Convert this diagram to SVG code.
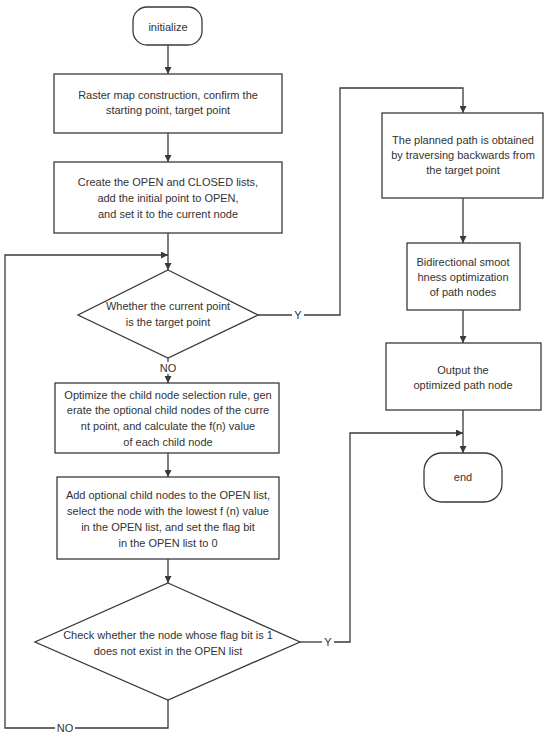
<svg xmlns="http://www.w3.org/2000/svg" width="550" height="740" viewBox="0 0 550 740">
<style>
.s{fill:#fff;stroke:#3a3a3a;stroke-width:1.3}
.c{fill:none;stroke:#3a3a3a;stroke-width:1.3}
text{font-family:"Liberation Sans",Arial,sans-serif;font-size:11px;fill:#333;text-anchor:middle}
</style>
<defs>
<marker id="a" viewBox="0 0 10 10" refX="10" refY="5" markerWidth="7" markerHeight="7" orient="auto" markerUnits="userSpaceOnUse">
<path d="M0,0 L10,5 L0,10 Z" fill="#3a3a3a"/>
</marker>
</defs>
<rect width="550" height="740" fill="#fff"/>
<g id="connectors">
<path class="c" d="M168,45 V74" marker-end="url(#a)"/>
<path class="c" d="M168,133 V162" marker-end="url(#a)"/>
<path class="c" d="M168,233 V270" marker-end="url(#a)"/>
<path class="c" d="M168,358 V362"/>
<path class="c" d="M168,374 V383" marker-end="url(#a)"/>
<path class="c" d="M168,453 V477" marker-end="url(#a)"/>
<path class="c" d="M168,559 V583" marker-end="url(#a)"/>
<path class="c" d="M258,315 H292"/>
<path class="c" d="M304,315 H340 V88 H463 V113" marker-end="url(#a)"/>
<path class="c" d="M463,198 V243" marker-end="url(#a)"/>
<path class="c" d="M463,310 V343" marker-end="url(#a)"/>
<path class="c" d="M463,410 V453" marker-end="url(#a)"/>
<path class="c" d="M300,642 H322"/>
<path class="c" d="M334,642 H350 V433 H463" marker-end="url(#a)"/>
<path class="c" d="M168,700 V728 H75"/>
<path class="c" d="M55,728 H5 V255 H168" marker-end="url(#a)"/>
<text x="298" y="319">Y</text>
<text x="168" y="372">NO</text>
<text x="328" y="646">Y</text>
<text x="65" y="732">NO</text>
</g>
<g id="initialize">
<rect class="s" x="133" y="7" width="69" height="38" rx="14"/>
<text x="168" y="31">initialize</text>
</g>
<g id="raster">
<rect class="s" x="54" y="74" width="228" height="59"/>
<text x="168" y="99">Raster map construction, confirm the</text>
<text x="168" y="114">starting point, target point</text>
</g>
<g id="create">
<rect class="s" x="54" y="162" width="228" height="71"/>
<text x="168" y="186">Create the OPEN and CLOSED lists,</text>
<text x="168" y="202">add the initial point to OPEN,</text>
<text x="168" y="218">and set it to the current node</text>
</g>
<g id="decision1">
<polygon class="s" points="168,270 258,315 168,358 78,315"/>
<text x="168" y="310">Whether the current point</text>
<text x="168" y="326">is the target point</text>
</g>
<g id="optimize">
<rect class="s" x="55" y="383" width="224" height="70"/>
<text x="168" y="399">Optimize the child node selection rule, gen</text>
<text x="168" y="414">erate the optional child nodes of the curre</text>
<text x="168" y="430">nt point, and calculate the f(n) value</text>
<text x="168" y="446">of each child node</text>
</g>
<g id="add">
<rect class="s" x="57" y="477" width="222" height="82"/>
<text x="168" y="499">Add optional child nodes to the OPEN list,</text>
<text x="168" y="515">select the node with the lowest f (n) value</text>
<text x="168" y="531">in the OPEN list, and set the flag bit</text>
<text x="168" y="547">in the OPEN list to 0</text>
</g>
<g id="decision2">
<polygon class="s" points="168,583 300,642 168,700 35,642"/>
<text x="168" y="639">Check whether the node whose flag bit is 1</text>
<text x="168" y="655">does not exist in the OPEN list</text>
</g>
<g id="traverse">
<rect class="s" x="382" y="113" width="161" height="85"/>
<text x="463" y="144">The planned path is obtained</text>
<text x="463" y="159">by traversing backwards from</text>
<text x="463" y="174">the target point</text>
</g>
<g id="smooth">
<rect class="s" x="407" y="243" width="113" height="67"/>
<text x="463" y="266">Bidirectional smoot</text>
<text x="463" y="281">hness optimization</text>
<text x="463" y="296">of path nodes</text>
</g>
<g id="output">
<rect class="s" x="386" y="343" width="155" height="67"/>
<text x="463" y="374">Output the</text>
<text x="463" y="389">optimized path node</text>
</g>
<g id="end">
<rect class="s" x="424" y="453" width="78" height="49" rx="18"/>
<text x="463" y="481">end</text>
</g>
</svg>
